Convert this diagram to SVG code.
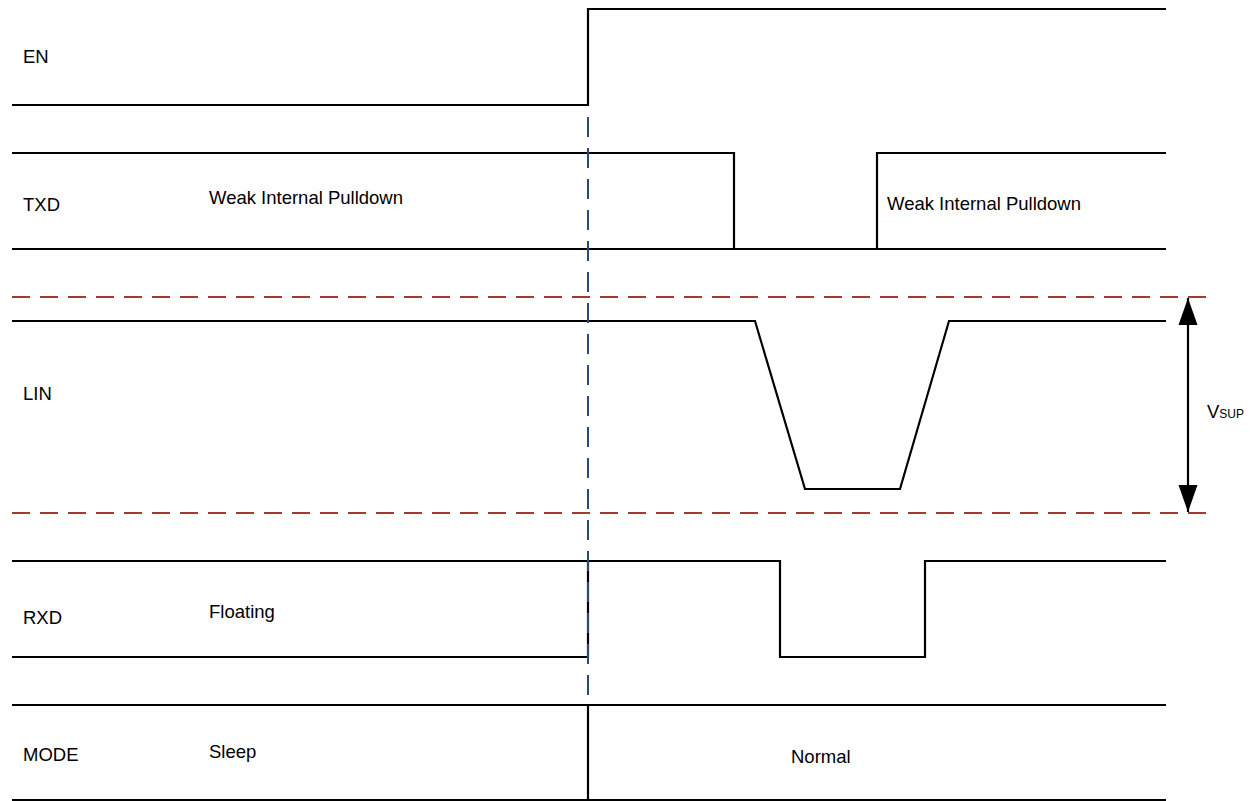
<svg xmlns="http://www.w3.org/2000/svg" width="1250" height="801" viewBox="0 0 1250 801">
<style>
.w{fill:none;stroke:#000;stroke-width:2.2;stroke-linejoin:miter}
.t{font-family:"Liberation Sans",Arial,sans-serif;font-size:18.5px;fill:#000}
.rd{stroke:#a0392f;stroke-width:2;stroke-dasharray:18 10;fill:none}
.bd{stroke:#2a4a7a;stroke-width:2;stroke-dasharray:20 11;fill:none}
</style>
<defs>
<marker id="ah" markerWidth="28" markerHeight="20" refX="27" refY="10" orient="auto-start-reverse" markerUnits="userSpaceOnUse" viewBox="0 0 28 20">
<path d="M0,0.5 L27,10 L0,19.5 Z" fill="#000"/>
</marker>
</defs>
<rect width="1250" height="801" fill="#fff"/>
<g id="EN">
<polyline class="w" points="12,105 588,105 588,9 1166,9"/>
<text class="t" x="23" y="63">EN</text>
</g>
<g id="TXD">
<polyline class="w" points="12,153 734,153 734,249"/>
<polyline class="w" points="877,249 877,153 1166,153"/>
<line class="w" x1="12" y1="249" x2="1166" y2="249"/>
<text class="t" x="23" y="211">TXD</text>
<text class="t" x="209" y="204">Weak Internal Pulldown</text>
<text class="t" x="887" y="210">Weak Internal Pulldown</text>
</g>
<g id="LIN">
<polyline class="w" points="12,321 755,321 805,489 900,489 949,321 1166,321"/>
<text class="t" x="23" y="400">LIN</text>
</g>
<g id="VSUP">
<line x1="1188" y1="298" x2="1188" y2="512" stroke="#000" stroke-width="2.2" marker-start="url(#ah)" marker-end="url(#ah)"/>
<text class="t" x="1207" y="418">V<tspan font-size="12">SUP</tspan></text>
</g>
<g id="RXD">
<polyline class="w" points="12,657 588,657 588,561 12,561"/>
<polyline class="w" points="588,561 780,561 780,657 925,657 925,561 1166,561"/>
<text class="t" x="23" y="624">RXD</text>
<text class="t" x="209" y="618">Floating</text>
</g>
<g id="MODE">
<line class="w" x1="12" y1="705" x2="1166" y2="705"/>
<line class="w" x1="12" y1="800" x2="1166" y2="800"/>
<line class="w" x1="588" y1="705" x2="588" y2="801"/>
<text class="t" x="23" y="761">MODE</text>
<text class="t" x="209" y="758">Sleep</text>
<text class="t" x="791" y="763">Normal</text>
</g>
<g id="guides">
<line class="rd" x1="12" y1="297" x2="1213" y2="297"/>
<line class="rd" x1="12" y1="513" x2="1213" y2="513"/>
<line class="bd" x1="588" y1="117" x2="588" y2="705"/>
</g>
</svg>
